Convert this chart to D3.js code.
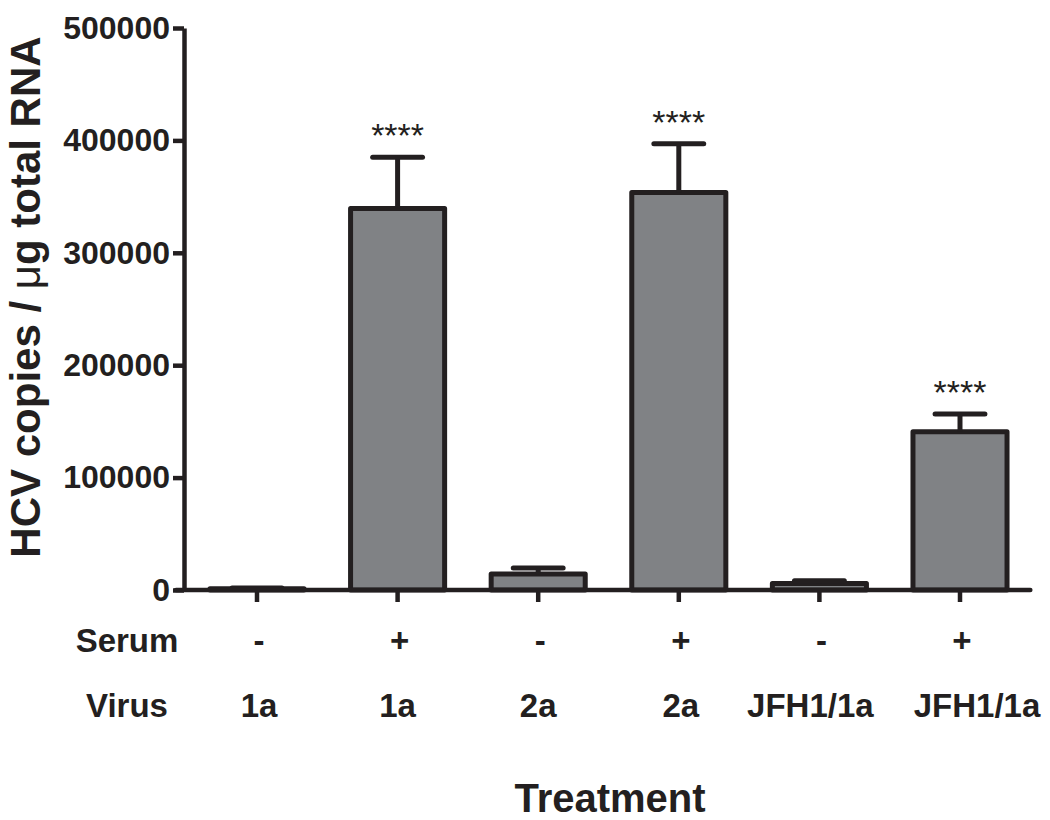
<!DOCTYPE html>
<html>
<head>
<meta charset="utf-8">
<script src="https://cdnjs.cloudflare.com/ajax/libs/d3/7.8.5/d3.min.js"></script>
<style>
  html, body { margin: 0; padding: 0; background: #fff; }
  svg { display: block; font-family: "Liberation Sans", Arial, Helvetica, sans-serif; }
</style>
</head>
<body>
<svg id="chart" width="1050" height="820"></svg>
<script>
// ---- data ----
const categories = ["c1", "c2", "c3", "c4", "c5", "c6"];
const serumLabels = ["-", "+", "-", "+", "-", "+"];
const virusLabels = ["1a", "1a", "2a", "2a", "JFH1/1a", "JFH1/1a"];
const means = [1200, 339400, 14200, 353600, 5800, 140700];
const errorTops = [1800, 385000, 19600, 397000, 8200, 156600];
const significance = ["", "****", "", "****", "", "****"];
const yTicks = [0, 100000, 200000, 300000, 400000, 500000];

// ---- layout ----
const ink = "#231f20";
const barFill = "#808285";
const svg = d3.select("#chart");

const y = d3.scaleLinear().domain([0, 500000]).range([590, 28]);
const x = d3.scaleBand().domain(categories).range([186.7, 1030.3])
  .paddingInner(0.331).paddingOuter(0.1655);

const g = svg.append("g");

// bars
g.selectAll("rect.bar").data(categories).join("rect")
  .attr("class", "bar")
  .attr("x", d => x(d))
  .attr("width", x.bandwidth())
  .attr("y", (d, i) => y(means[i]))
  .attr("height", (d, i) => y(0) - y(means[i]))
  .attr("fill", barFill)
  .attr("stroke", ink)
  .attr("stroke-width", 5)
  .attr("stroke-linejoin", "round");

// error bars (upper only)
const capW = x.bandwidth() * 0.53;
g.selectAll("line.err").data(categories).join("line")
  .attr("class", "err")
  .attr("x1", d => x(d) + x.bandwidth() / 2)
  .attr("x2", d => x(d) + x.bandwidth() / 2)
  .attr("y1", (d, i) => y(means[i]))
  .attr("y2", (d, i) => y(errorTops[i]))
  .attr("stroke", ink).attr("stroke-width", 5);
g.selectAll("line.cap").data(categories).join("line")
  .attr("class", "cap")
  .attr("x1", d => x(d) + x.bandwidth() / 2 - capW / 2)
  .attr("x2", d => x(d) + x.bandwidth() / 2 + capW / 2)
  .attr("y1", (d, i) => y(errorTops[i]))
  .attr("y2", (d, i) => y(errorTops[i]))
  .attr("stroke", ink).attr("stroke-width", 5).attr("stroke-linecap", "round");

// significance stars
g.selectAll("text.sig").data(categories).join("text")
  .attr("class", "sig")
  .attr("x", d => x(d) + x.bandwidth() / 2)
  .attr("y", (d, i) => y(errorTops[i]) - 10)
  .attr("text-anchor", "middle")
  .attr("font-size", 34)
  .attr("fill", ink)
  .text((d, i) => significance[i]);

// y axis
const yAxis = d3.axisLeft(y).tickValues(yTicks).tickFormat(d3.format("d"))
  .tickSize(11).tickSizeOuter(0).tickPadding(3);
const yg = svg.append("g").attr("transform", "translate(184,0)").call(yAxis);
yg.select(".domain").attr("stroke", ink).attr("stroke-width", 4.5);
yg.selectAll(".tick line").attr("stroke", ink).attr("stroke-width", 4.5);
yg.selectAll(".tick text")
  .attr("font-size", 32).attr("font-weight", "bold").attr("fill", ink)
  .attr("font-family", "'Liberation Sans', Arial, sans-serif");

// x axis
const xAxis = d3.axisBottom(x).tickFormat("").tickSize(12).tickSizeOuter(0);
const xg = svg.append("g").attr("transform", "translate(0,590)").call(xAxis);
xg.select(".domain").remove();
xg.selectAll(".tick line").attr("stroke", ink).attr("stroke-width", 4.5);
xg.append("line")
  .attr("x1", 176).attr("x2", x.range()[1])
  .attr("y1", 0).attr("y2", 0)
  .attr("stroke", ink).attr("stroke-width", 4.5).attr("stroke-linecap", "round");

// category table rows
const serumNudge = [2, 2, 2, 2, 2, 2];
const virusNudge = [2, 0, 0, 2, -9, 17];
const rowFont = 33;
svg.append("text").attr("x", 127).attr("y", 652).attr("text-anchor", "middle")
  .attr("font-size", rowFont).attr("font-weight", "bold").attr("fill", ink).text("Serum");
svg.append("text").attr("x", 127).attr("y", 717).attr("text-anchor", "middle")
  .attr("font-size", rowFont).attr("font-weight", "bold").attr("fill", ink).text("Virus");

svg.selectAll("text.serum").data(categories).join("text")
  .attr("class", "serum")
  .attr("x", (d, i) => x(d) + x.bandwidth() / 2 + serumNudge[i])
  .attr("y", 652)
  .attr("text-anchor", "middle")
  .attr("font-size", rowFont).attr("font-weight", "bold").attr("fill", ink)
  .text((d, i) => serumLabels[i]);

svg.selectAll("text.virus").data(categories).join("text")
  .attr("class", "virus")
  .attr("x", (d, i) => x(d) + x.bandwidth() / 2 + virusNudge[i])
  .attr("y", 717)
  .attr("text-anchor", "middle")
  .attr("font-size", rowFont).attr("font-weight", "bold").attr("fill", ink)
  .text((d, i) => virusLabels[i]);

// x title
svg.append("text").attr("x", 610).attr("y", 812).attr("text-anchor", "middle")
  .attr("font-size", 40).attr("font-weight", "bold").attr("fill", ink).text("Treatment");

// y title
const yt = svg.append("text")
  .attr("transform", "translate(40,297) rotate(-90)")
  .attr("text-anchor", "middle")
  .attr("font-size", 42).attr("font-weight", "bold").attr("fill", ink);
yt.append("tspan").text("HCV copies / ");
yt.append("tspan").attr("font-weight", "normal").text("\u03bc");
yt.append("tspan").text("g total RNA");
</script>
</body>
</html>
